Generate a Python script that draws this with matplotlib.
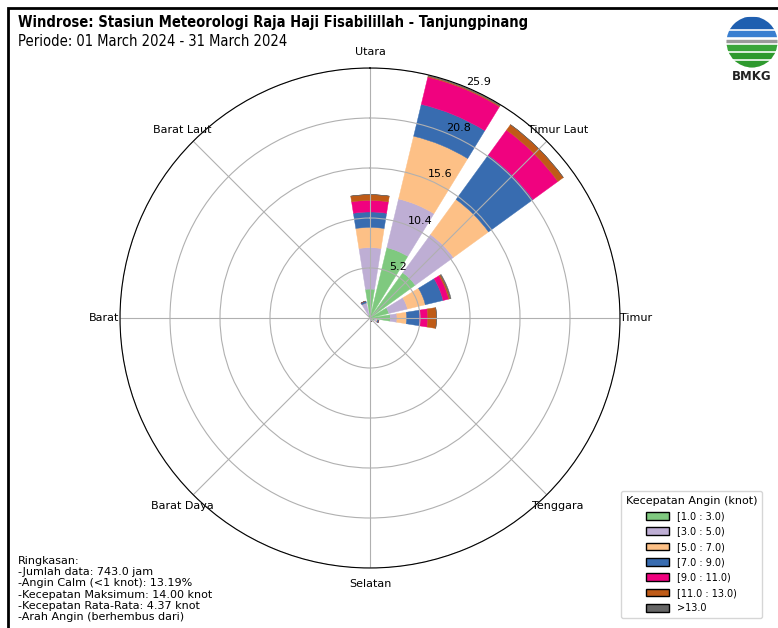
import numpy as np
import matplotlib.pyplot as plt
from matplotlib.patches import Patch, Rectangle, Circle

# arah 16 mata angin (derajat dari utara, searah jarum jam)
directions = ["N", "NNE", "NE", "ENE", "E", "ESE", "SE", "SSE",
              "S", "SSW", "SW", "WSW", "W", "WNW", "NW", "NNW"]
dir_deg = np.arange(16) * 22.5

speed_labels = ["[1.0 : 3.0)", "[3.0 : 5.0)", "[5.0 : 7.0)", "[7.0 : 9.0)",
                "[9.0 : 11.0)", "[11.0 : 13.0)", ">13.0"]

# frekuensi (%) per kelas kecepatan
spd_1_3 = [3.0, 7.5, 5.8, 2.0, 2.1, 0.5, 0.1, 0.3, 0, 0, 0, 0, 0, 0, 0, 0.3]
spd_3_5 = [4.3, 5.2, 4.9, 2.0, 0.7, 0.2, 0, 0.1, 0, 0, 0, 0, 0, 0, 0, 1.3]
spd_5_7 = [2.1, 6.7, 4.5, 1.9, 1.0, 0.1, 0, 0, 0, 0, 0, 0, 0, 0, 0, 0]
spd_7_9 = [1.6, 3.4, 5.7, 1.9, 1.35, 0.15, 0, 0, 0, 0, 0, 0, 0, 0, 0, 0.2]
spd_9_11 = [1.2, 2.9, 3.2, 0.6, 0.85, 0, 0, 0, 0, 0, 0, 0, 0, 0, 0, 0]
spd_11_13 = [0.6, 0.1, 0.7, 0.15, 0.9, 0, 0, 0, 0, 0, 0, 0, 0, 0, 0, 0]
spd_13 = [0, 0.14, 0, 0.1, 0, 0, 0, 0, 0, 0, 0, 0, 0, 0, 0, 0]

table = [spd_1_3, spd_3_5, spd_5_7, spd_7_9, spd_9_11, spd_11_13, spd_13]

compass_labels = ["Utara", "Timur Laut", "Timur", "Tenggara",
                  "Selatan", "Barat Daya", "Barat", "Barat Laut"]

cmap = plt.get_cmap("Accent")
colors = [cmap(v) for v in np.linspace(0, 1, len(table))]

W, H = 778, 628
fig = plt.figure(figsize=(W / 100, H / 100), dpi=100)

ax = fig.add_axes([120 / W, 60 / H, 500 / W, 500 / H], projection="polar")
ax.set_theta_zero_location("N")
ax.set_theta_direction(-1)

theta = np.deg2rad(dir_deg)
width = np.deg2rad(22.5 * 0.8)
bottom = np.zeros(len(directions))
for vals, c, lab in zip(table, colors, speed_labels):
    vals = np.array(vals)
    ax.bar(theta, vals, width=width, bottom=bottom, color=c, edgecolor=c, linewidth=0.3)
    bottom += vals

rmax = bottom.max()
ax.set_ylim(0, rmax)
radii = np.linspace(0, rmax, 6)[1:]
ax.set_rgrids(radii, [f"{r:.1f}" for r in radii], angle=22.5, fontsize=8)
ax.set_thetagrids(np.arange(0, 360, 45), compass_labels, fontsize=8)
ax.tick_params(axis="x", pad=1)
ax.grid(color="#b0b0b0", linewidth=0.8)

# legenda
handles = [Patch(facecolor=c, edgecolor="black", label=l) for c, l in zip(colors, speed_labels)]
fig.legend(handles=handles, title="Kecepatan Angin (knot)", loc="lower right",
           bbox_to_anchor=(767 / W, 5 / H), fontsize=7, title_fontsize=8,
           labelspacing=0.55, handlelength=2.4, handleheight=0.8, borderpad=0.5)

# judul
fig.text(18 / W, 1 - 22 / H, "Windrose: Stasiun Meteorologi Raja Haji Fisabilillah - Tanjungpinang",
         fontsize=10.5, weight="bold", va="center", fontstretch="condensed")
fig.text(18 / W, 1 - 42 / H, "Periode: 01 March 2024 - 31 March 2024",
         fontsize=10.5, va="center", fontstretch="condensed")

# ringkasan
summary = ("Ringkasan:\n-Jumlah data: 743.0 jam\n-Angin Calm (<1 knot): 13.19%\n"
           "-Kecepatan Maksimum: 14.00 knot\n-Kecepatan Rata-Rata: 4.37 knot\n"
           "-Arah Angin (berhembus dari)")
fig.text(18 / W, 1 - 556 / H, summary, fontsize=8, va="top", linespacing=1.15)

# bingkai
fig.patches.append(Rectangle((8 / W, -0.1), 1.2, 1.1 - 8 / H, transform=fig.transFigure,
                             fill=False, edgecolor="black", linewidth=2))

# logo BMKG (sederhana)
lax = fig.add_axes([724 / W, 1 - 70 / H, 56 / W, 56 / H])
lax.set_xlim(-1.1, 1.1)
lax.set_ylim(-1.1, 1.1)
lax.set_aspect("equal")
lax.axis("off")
clip = Circle((0, 0), 1.0, transform=lax.transData)
for y0, h, c in [(0.55, 0.45, "#1f5fb0"), (0.25, 0.2, "#3a7fd0"), (0.0, 0.06, "#9a9a9a"),
                 (-0.3, 0.2, "#3aa53a"), (-0.62, 0.2, "#2e9a2e"), (-1.0, 0.25, "#2e9a2e")]:
    r = Rectangle((-1.1, y0), 2.2, h, color=c)
    r.set_clip_path(clip)
    lax.add_patch(r)
fig.text(752 / W, 1 - 77 / H, "BMKG", fontsize=8.5, weight="bold", ha="center", va="center",
         color="#222222")

fig.savefig("out.png", dpi=100)
